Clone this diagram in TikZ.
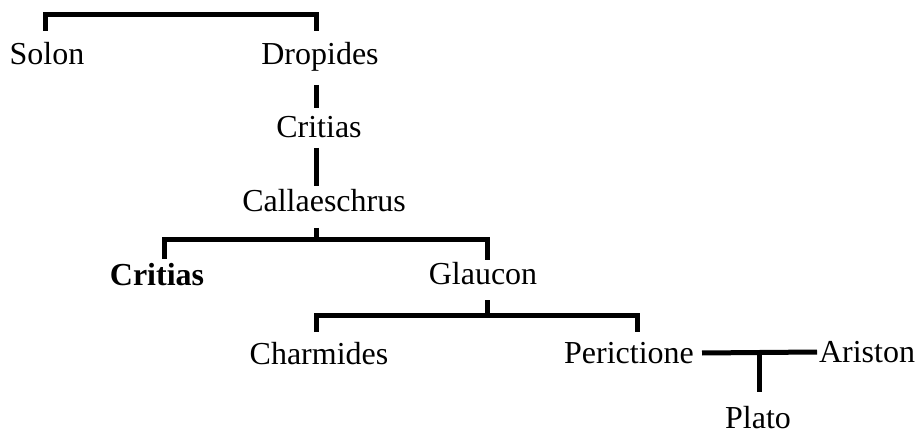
\documentclass[tikz,border=0pt]{standalone}
\usepackage{fontspec}
\setmainfont{Liberation Serif}
\usetikzlibrary{calc}
\begin{document}
\begin{tikzpicture}[x=1pt,y=-1pt,
  person/.style={anchor=base,inner sep=0pt,font=\rmfamily\fontsize{32}{38}\selectfont},
  kin/.style={line width=5pt,line cap=butt,line join=miter}]
\useasboundingbox (0,0) rectangle (917,435);

% people
\node[person] (solon)   at (47,65)  {Solon};
\node[person] (drop)    at (320,65) {Dropides};
\node[person] (crit)    at (319,138) {Critias};
\node[person] (call)    at (324,212) {Callaeschrus};
\node[person] (critb)   at (157,285) {\textbf{Critias}};
\node[person] (glau)    at (483,284) {Glaucon};
\node[person] (charm)   at (319,364) {Charmides};
\node[person] (peric)   at (629,363) {Perictione};
\node[person] (arist)   at (867,362) {Ariston};
\node[person] (plato)   at (758,428) {Plato};

% Solon and Dropides
\draw[kin] ($(solon.base)+(-2,-34)$) |- ($(drop.base)+(-4,-50)$) -- ($(drop.base)+(-4,-34)$);

% line of descent
\draw[kin] ($(drop.base)+(-4,20)$) -- ($(crit.base)+(-3,-30)$);
\draw[kin] ($(crit.base)+(-3,10)$) -- ($(call.base)+(-8,-26)$);

% children of Callaeschrus
\draw[kin] ($(call.base)+(-8,16)$) -- ($(call.base)+(-8,28)$);
\draw[kin] ($(critb.base)+(7,-26)$) |- ($(glau.base)+(4,-44)$) -- ($(glau.base)+(4,-24)$);

% children of Glaucon
\draw[kin] ($(glau.base)+(4,16)$) -- ($(glau.base)+(4,31)$);
\draw[kin] ($(charm.base)+(-3,-32)$) |- ($(peric.base)+(8,-48)$) -- ($(peric.base)+(8,-31)$);

% Perictione and Ariston, and their son
\draw[kin] ($(peric.base)+(73,-10)$) -- ($(arist.base)+(-50,-10)$);
\draw[kin] ($(plato.base)+(1,-76)$) -- ($(plato.base)+(1,-36)$);
\end{tikzpicture}
\end{document}
